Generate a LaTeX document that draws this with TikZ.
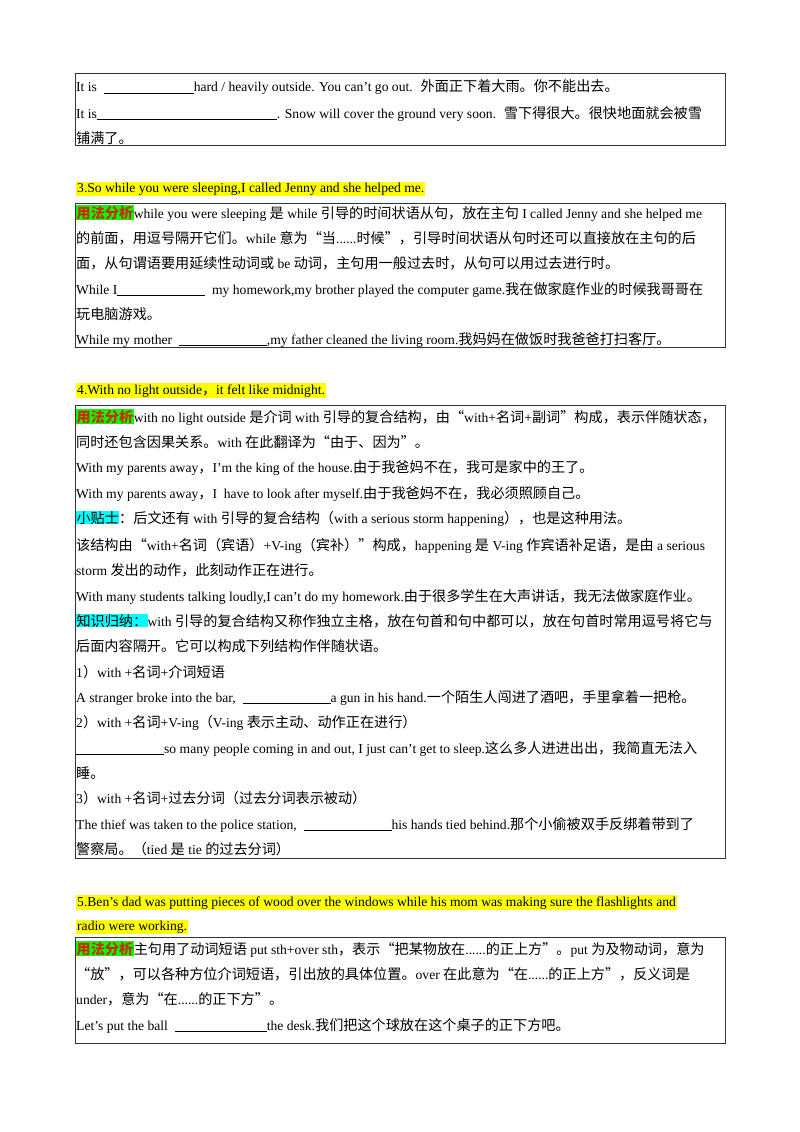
\documentclass[tikz,border=0pt]{standalone}
\usepackage{fontspec}
\setmainfont{Liberation Serif}
\newfontfamily\cjk[Scale=1.04]{Noto Sans CJK SC}
\newfontfamily\latin{Liberation Serif}
\XeTeXinterchartokenstate=1
\newXeTeXintercharclass\cjkclass
\makeatletter
\count@="3000
\loop\XeTeXcharclass\count@=\cjkclass\advance\count@ by 1\ifnum\count@<"303F\repeat
\count@="4E00
\loop\XeTeXcharclass\count@=\cjkclass\advance\count@ by 1\ifnum\count@<"9FFF\repeat
\count@="FF00
\loop\XeTeXcharclass\count@=\cjkclass\advance\count@ by 1\ifnum\count@<"FFEF\repeat
\makeatother
\XeTeXcharclass"201C=\cjkclass
\XeTeXcharclass"201D=\cjkclass
\XeTeXinterchartoks 0 \cjkclass = {\cjk}
\XeTeXinterchartoks 4095 \cjkclass = {\cjk}
\XeTeXinterchartoks \cjkclass 0 = {\latin}
\XeTeXinterchartoks \cjkclass 4095 = {\latin}
\definecolor{hlyellow}{RGB}{255,255,0}
\definecolor{hlgreen}{RGB}{0,255,0}
\definecolor{hlcyan}{RGB}{0,255,255}
\definecolor{labred}{RGB}{210,40,0}
\newcommand{\blank}[1]{\rule[-2pt]{#1pt}{0.7pt}}
\newcommand{\yfa}{\setlength{\fboxsep}{0.5pt}\colorbox{hlgreen}{\textcolor{labred}{\cjk\bfseries 用法分析}}}
\newcommand{\cy}[1]{\setlength{\fboxsep}{0.3pt}\colorbox{hlcyan}{#1}}
\newcommand{\hy}[1]{\setlength{\fboxsep}{1pt}\colorbox{hlyellow}{#1}}
\newcounter{lnum}
\newcommand{\tline}[2]{\stepcounter{lnum}\node[txt] (t\arabic{lnum}) at (76,#1+5) {#2};}
\tikzset{txt/.style={anchor=base west,inner sep=0pt,font=\fontsize{13.6}{16}\selectfont},
 frame/.style={draw=black!80,line width=1.1pt}}
\begin{document}
\begin{tikzpicture}[x=1pt,y=-1pt]
\fill[white] (0,0) rectangle (800,1132);
\useasboundingbox (0,0) rectangle (800,1132);
% box 1
\node[frame,inner sep=0pt,minimum width=650,minimum height=72,anchor=north west] (b1) at (75,73) {};
\tline{87}{It is \ \blank{90}hard / heavily outside. You can’t go out. \ 外面正下着大雨。你不能出去。}
\tline{113}{It is\blank{180}. Snow will cover the ground very soon. \ 雪下得很大。很快地面就会被雪}
\tline{138}{铺满了。}
% heading 3
\tline{187}{\hy{3.So while you were sleeping,I called Jenny and she helped me.}}
\node[frame,inner sep=0pt,minimum width=650,minimum height=144,anchor=north west] (b2) at (75,203) {};
\tline{213}{\yfa while you were sleeping 是 while 引导的时间状语从句，放在主句 I called Jenny and she helped me}
\tline{238}{的前面，用逗号隔开它们。while 意为“当......时候”，引导时间状语从句时还可以直接放在主句的后}
\tline{263}{面，从句谓语要用延续性动词或 be 动词，主句用一般过去时，从句可以用过去进行时。}
\tline{289}{While I\blank{88} \ my homework,my brother played the computer game.我在做家庭作业的时候我哥哥在}
\tline{314}{玩电脑游戏。}
\tline{339}{While my mother \ \blank{88},my father cleaned the living room.我妈妈在做饭时我爸爸打扫客厅。}
% heading 4
\tline{389}{\hy{4.With no light outside，it felt like midnight.}}
\node[frame,inner sep=0pt,minimum width=650,minimum height=453,anchor=north west] (b3) at (75,405) {};
\tline{417}{\yfa with no light outside 是介词 with 引导的复合结构，由“with+名词+副词”构成，表示伴随状态，}
\tline{442}{同时还包含因果关系。with 在此翻译为“由于、因为”。}
\tline{467}{With my parents away，I’m the king of the house.由于我爸妈不在，我可是家中的王了。}
\tline{493}{With my parents away，I \ have to look after myself.由于我爸妈不在，我必须照顾自己。}
\tline{518}{\cy{小贴士}：后文还有 with 引导的复合结构（with a serious storm happening），也是这种用法。}
\tline{545}{该结构由“with+名词（宾语）+V-ing（宾补）”构成，happening 是 V-ing 作宾语补足语，是由 a serious}
\tline{570}{storm 发出的动作，此刻动作正在进行。}
\tline{596}{With many students talking loudly,I can’t do my homework.由于很多学生在大声讲话，我无法做家庭作业。}
\tline{621}{\cy{知识归纳：}with 引导的复合结构又称作独立主格，放在句首和句中都可以，放在句首时常用逗号将它与}
\tline{646}{后面内容隔开。它可以构成下列结构作伴随状语。}
\tline{672}{1）with +名词+介词短语}
\tline{697}{A stranger broke into the bar, \ \blank{88}a gun in his hand.一个陌生人闯进了酒吧，手里拿着一把枪。}
\tline{722}{2）with +名词+V-ing（V-ing 表示主动、动作正在进行）}
\tline{748}{\blank{88}so many people coming in and out, I just can’t get to sleep.这么多人进进出出，我简直无法入}
\tline{773}{睡。}
\tline{798}{3）with +名词+过去分词（过去分词表示被动）}
\tline{824}{The thief was taken to the police station, \ \blank{88}his hands tied behind.那个小偷被双手反绑着带到了}
\tline{849}{警察局。（tied 是 tie 的过去分词）}
% heading 5
\tline{901}{\hy{5.Ben’s dad was putting pieces of wood over the windows while his mom was making sure the flashlights and}}
\tline{925}{\hy{radio were working.}}
\node[frame,inner sep=0pt,minimum width=650,minimum height=106,anchor=north west] (b4) at (75,937) {};
\tline{949}{\yfa 主句用了动词短语 put sth+over sth，表示“把某物放在......的正上方”。put 为及物动词，意为}
\tline{974}{“放”，可以各种方位介词短语，引出放的具体位置。over 在此意为“在......的正上方”，反义词是}
\tline{999}{under，意为“在......的正下方”。}
\tline{1025}{Let’s put the ball \ \blank{92}the desk.我们把这个球放在这个桌子的正下方吧。}
\end{tikzpicture}
\end{document}
